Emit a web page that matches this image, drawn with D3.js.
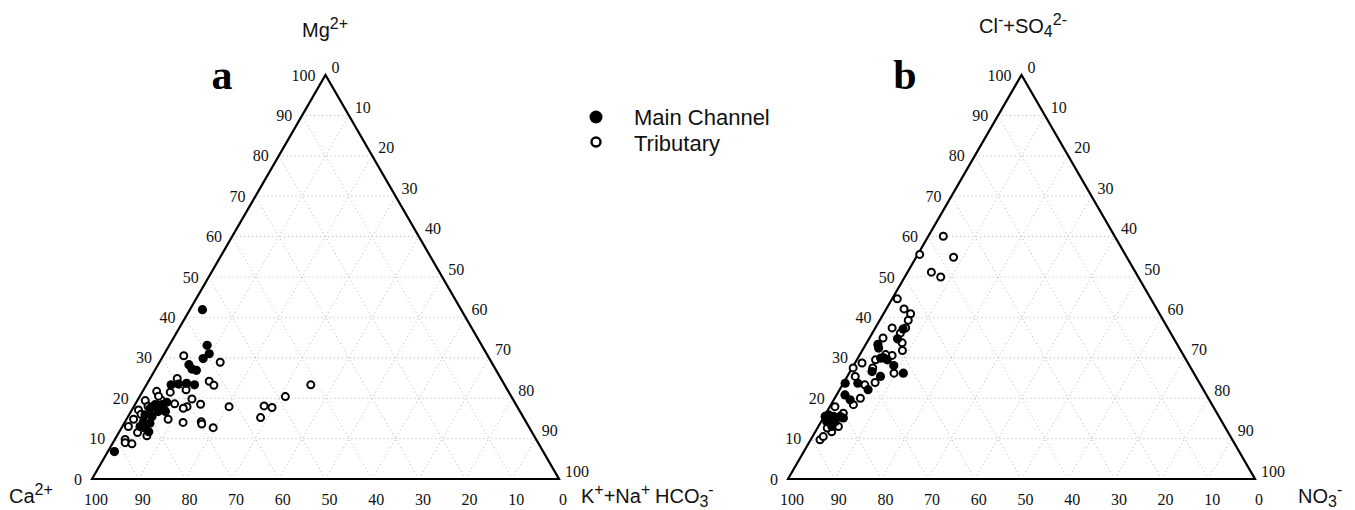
<!DOCTYPE html>
<html>
<head>
<meta charset="utf-8">
<script src="https://cdn.jsdelivr.net/npm/d3@7/dist/d3.min.js"></script>
<style>
  body { margin: 0; background: #fff; }
  svg { display: block; }
  .tick { font-family: "Liberation Serif", "Times New Roman", serif; font-size: 16px; fill: #111; }
  .title { font-family: "Liberation Sans", Arial, sans-serif; font-size: 20px; fill: #111; }
</style>
</head>
<body>
<div id="graph"></div>
<script>
'use strict';

// tick labels along each side
const tickValues = [0, 10, 20, 30, 40, 50, 60, 70, 80, 90, 100];
const gridValues = [10, 20, 30, 40, 50, 60, 70, 80, 90];

// panel a: [Mg2+ %, K+ + Na+ %]  (Ca2+ = the rest)
const cationMain = [
  [41.9, 2.7], [33.1, 8.1], [31.0, 9.6], [29.8, 8.9], [28.3, 6.6], [27.2, 7.8],
  [26.9, 8.9], [23.3, 5.3], [23.5, 6.8], [23.7, 8.4], [23.3, 10.3], [6.8, 1.4],
  [18.4, 4.3], [18.4, 5.8], [17.5, 3.7], [16.7, 5.8], [15.9, 3.4], [15.5, 5.1],
  [14.2, 3.9], [13.8, 5.5], [12.6, 5.1], [11.7, 6.3], [13.0, 3.8], [19.0, 6.5],
  [17.0, 7.0]
];
const cationTrib = [
  [30.5, 4.4], [28.9, 13.0], [24.9, 5.8], [22.1, 9.1], [24.2, 13.0], [23.2, 14.5],
  [23.3, 35.2], [20.4, 31.2], [18.1, 27.8], [17.7, 29.7], [15.2, 28.5], [17.9, 20.4],
  [18.5, 14.0], [19.8, 11.5], [17.9, 11.4], [17.5, 10.8], [18.6, 8.4], [14.8, 8.9],
  [14.0, 12.5], [14.2, 16.3], [13.6, 16.7], [12.7, 19.6], [21.7, 3.0], [21.5, 6.0],
  [19.4, 1.7], [17.1, 1.4], [14.8, 1.5], [13.0, 1.3], [9.8, 2.2], [9.0, 2.6],
  [8.7, 4.2], [11.5, 4.0], [10.7, 6.4], [16.7, 7.4], [19.6, 5.0], [16.0, 2.5],
  [15.0, 4.2], [18.0, 3.0], [20.5, 4.0]
];

// panel b: [Cl- + SO4 2- %, NO3- %]  (HCO3- = the rest)
const anionMain = [
  [26.2, 11.6], [33.3, 2.6], [32.4, 3.2], [29.9, 4.9], [29.5, 6.5], [28.1, 8.6],
  [34.7, 6.1], [37.1, 6.1], [26.6, 4.7], [25.4, 7.1], [23.7, 0.4], [23.7, 3.1],
  [22.1, 6.1], [20.8, 1.8], [19.6, 3.5], [15.5, 0.2], [15.9, 0.7], [15.5, 2.0],
  [15.5, 3.4], [14.2, 1.2], [14.2, 3.0], [15.1, 4.3], [13.0, 2.9], [30.0, 5.5]
];
const anionTrib = [
  [60.1, 3.2], [54.9, 8.0], [55.6, 0.4], [51.2, 5.1], [50.0, 7.7], [44.6, 1.1],
  [42.1, 3.8], [40.9, 5.8], [39.3, 6.1], [37.4, 3.6], [37.4, 6.5], [36.1, 6.0],
  [34.9, 2.9], [33.7, 7.6], [31.8, 8.6], [30.6, 7.0], [30.8, 5.5], [28.7, 1.5],
  [27.5, 0.2], [29.5, 4.0], [27.5, 4.4], [26.2, 9.6], [25.4, 1.7], [23.3, 4.8],
  [23.9, 6.7], [20.0, 5.5], [18.4, 4.8], [17.9, 1.1], [9.7, 2.0], [10.5, 2.3],
  [11.7, 3.5], [12.6, 2.1], [13.0, 4.3], [16.3, 3.7]
];

const legendItems = ["Main Channel", "Tributary"];

const svg = d3.select('#graph').append('svg')
  .attr('width', 1355)
  .attr('height', 510);

// draw one ternary panel, returns the point mapper
function drawTernary(x0, main, trib) {
  const W = 467, H = 404, base = 479;
  // horizontal position from (right + top/2), vertical from top
  const xScale = d3.scaleLinear().domain([0, 100]).range([x0, x0 + W]);
  const yScale = d3.scaleLinear().domain([0, 100]).range([base, base - H]);
  const pt = (top, right) => [xScale(right + top / 2), yScale(top)];

  const g = svg.append('g');

  // dotted grid, three families
  const gridLines = [];
  gridValues.forEach(v => {
    gridLines.push([pt(v, 0), pt(v, 100 - v)]);          // top const
    gridLines.push([pt(0, v), pt(100 - v, v)]);          // right const
    gridLines.push([pt(0, 100 - v), pt(100 - v, 0)]);    // left const
  });
  g.selectAll('.grid').data(gridLines).enter().append('line')
    .attr('x1', d => d[0][0]).attr('y1', d => d[0][1])
    .attr('x2', d => d[1][0]).attr('y2', d => d[1][1])
    .attr('stroke', '#b8b8b8')
    .attr('stroke-width', 1)
    .attr('stroke-dasharray', '1,3');

  // outline
  const corners = [pt(0, 0), pt(100, 0), pt(0, 100)];
  g.append('path')
    .attr('d', d3.line()(corners) + 'Z')
    .attr('fill', 'none')
    .attr('stroke', '#000')
    .attr('stroke-width', 2.2)
    .attr('stroke-linejoin', 'miter');

  // left side: top component, 0 at bottom to 100 at apex
  g.selectAll('.lt').data(tickValues).enter().append('text')
    .attr('class', 'tick')
    .attr('x', d => pt(d, 0)[0] - 10)
    .attr('y', d => pt(d, 0)[1])
    .attr('dy', '0.35em')
    .attr('text-anchor', 'end')
    .text(d => d);

  // right side: right component, 0 at apex to 100 at bottom-right
  g.selectAll('.rt').data(tickValues).enter().append('text')
    .attr('class', 'tick')
    .attr('x', d => pt(100 - d, d)[0] + 6)
    .attr('y', d => pt(100 - d, d)[1] - 8)
    .attr('dy', '0.35em')
    .text(d => d);

  // bottom: left component, 100 at left to 0 at right
  g.selectAll('.bt').data(tickValues).enter().append('text')
    .attr('class', 'tick')
    .attr('x', d => pt(0, 100 - d)[0] + 4)
    .attr('y', base + 20)
    .attr('dy', '0.35em')
    .attr('text-anchor', 'middle')
    .text(d => d);

  // points
  g.selectAll('.trib').data(trib).enter().append('circle')
    .attr('cx', d => pt(d[0], d[1])[0])
    .attr('cy', d => pt(d[0], d[1])[1])
    .attr('r', 3.5)
    .attr('fill', '#fff')
    .attr('stroke', '#000')
    .attr('stroke-width', 2);

  g.selectAll('.main').data(main).enter().append('circle')
    .attr('cx', d => pt(d[0], d[1])[0])
    .attr('cy', d => pt(d[0], d[1])[1])
    .attr('r', 4.6)
    .attr('fill', '#000');

  return pt;
}

drawTernary(92, cationMain, cationTrib);
drawTernary(788, anionMain, anionTrib);

// axis titles with sub/superscripts (shifts done with dy)
function ionLabel(x, y, parts, anchor) {
  const t = svg.append('text')
    .attr('class', 'title')
    .attr('x', x)
    .attr('y', y)
    .attr('text-anchor', anchor || 'start');
  let shift = 0;
  parts.forEach(p => {
    const target = p[1] === 'sup' ? -8 : p[1] === 'sub' ? 4 : 0;
    const s = t.append('tspan').attr('dy', target - shift).text(p[0]);
    if (p[1]) s.style('font-size', '16px');
    shift = target;
  });
}

ionLabel(325, 37, [['Mg'], ['2+', 'sup']], 'middle');
ionLabel(1023, 33, [['Cl'], ['-', 'sup'], ['+SO'], ['4', 'sub'], ['2-', 'sup']], 'middle');
ionLabel(9, 503, [['Ca'], ['2+', 'sup']]);
ionLabel(581, 503, [['K'], ['+', 'sup'], ['+Na'], ['+', 'sup']]);
ionLabel(655, 503, [['HCO'], ['3', 'sub'], ['-', 'sup']]);
ionLabel(1298, 503, [['NO'], ['3', 'sub'], ['-', 'sup']]);

// panel letters
svg.append('text')
  .attr('x', 222).attr('y', 89)
  .attr('text-anchor', 'middle')
  .style('font-family', '"Liberation Serif", serif')
  .style('font-weight', 'bold')
  .style('font-size', '42px')
  .text('a');
svg.append('text')
  .attr('x', 905).attr('y', 89)
  .attr('text-anchor', 'middle')
  .style('font-family', '"Liberation Serif", serif')
  .style('font-weight', 'bold')
  .style('font-size', '42px')
  .text('b');

// handmade legend
const legend = svg.append('g');
legend.selectAll('.legendDot').data(legendItems).enter().append('circle')
  .attr('cx', 596)
  .attr('cy', (d, i) => 117 + 25 * i)
  .attr('r', (d, i) => i === 0 ? 6.5 : 4.5)
  .attr('fill', (d, i) => i === 0 ? '#000' : '#fff')
  .attr('stroke', '#000')
  .attr('stroke-width', (d, i) => i === 0 ? 0 : 2.4);
legend.selectAll('.legendName').data(legendItems).enter().append('text')
  .attr('x', 634)
  .attr('y', (d, i) => 125 + 26 * i)
  .style('font-family', '"Liberation Sans", Arial, sans-serif')
  .style('font-size', '22px')
  .style('fill', '#111')
  .text(d => d);
</script>
</body>
</html>
